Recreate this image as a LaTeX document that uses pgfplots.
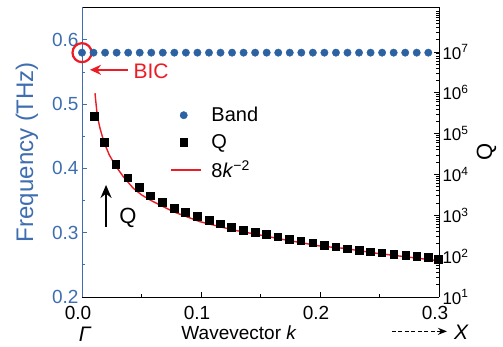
\documentclass[border=0pt]{standalone}
\usepackage{pgfplots}
\pgfplotsset{compat=1.18}
\usetikzlibrary{arrows.meta}
\usepackage{fontspec}
\setmainfont{Liberation Sans}
\definecolor{bandC}{RGB}{44,98,162}
\definecolor{blueL}{RGB}{62,110,176}
\definecolor{redC}{RGB}{236,28,36}
\pgfplotsset{
  markleg/.style={legend image code/.code={\draw[##1] plot coordinates {(13pt,0pt)};}},
  lineleg/.style={legend image code/.code={\draw[##1] (0pt,0pt) -- (30pt,0pt);}},
}
\begin{document}
\begin{tikzpicture}
\begin{axis}[
  name=ax1, at={(0pt,0pt)}, anchor=south west,
  scale only axis, width=357pt, height=290pt,
  xmin=0, xmax=0.3, ymin=0.2, ymax=0.651,
  axis x line*=box, axis y line*=left,
  xtick pos=left,
  x axis line style={black, line width=0.9pt},
  y axis line style={blueL, line width=0.9pt},
  xtick={0,0.1,0.2,0.3}, xticklabels={0.0,0.1,0.2,0.3},
  minor x tick num=1,
  ytick={0.2,0.3,0.4,0.5,0.6}, yticklabels={0.2,0.3,0.4,0.5,0.6},
  minor y tick num=1,
  tick align=inside,
  major tick length=5pt, minor tick length=3pt,
  xtick style={black, line width=0.8pt},
  ytick style={blueL, line width=0.8pt},
  xticklabel style={font=\fontsize{19}{19}\selectfont, xshift=-4pt, yshift=-6pt},
  yticklabel style={font=\fontsize{19}{19}\selectfont, text=blueL},
  ylabel={Frequency (THz)},
  ylabel style={at={(axis description cs:-0.154,0.5)}, anchor=center, font=\fontsize{24}{24}\selectfont, text=blueL},
  clip=false,
]
\addplot[only marks, mark=*, mark size=3.7pt, color=bandC] coordinates {
(0,0.58) (0.0097,0.58) (0.0194,0.58) (0.0291,0.58) (0.0388,0.58) (0.0485,0.58)
(0.0582,0.58) (0.0679,0.58) (0.0776,0.58) (0.0873,0.58) (0.097,0.58) (0.1067,0.58)
(0.1164,0.58) (0.1261,0.58) (0.1358,0.58) (0.1455,0.58) (0.1552,0.58) (0.1649,0.58)
(0.1746,0.58) (0.1843,0.58) (0.194,0.58) (0.2037,0.58) (0.2134,0.58) (0.2231,0.58)
(0.2328,0.58) (0.2425,0.58) (0.2522,0.58) (0.2619,0.58) (0.2716,0.58) (0.2813,0.58)
(0.291,0.58)};
% annotations
\draw[redC, line width=2.2pt] (axis cs:0,0.58) circle[radius=9.5pt];
\draw[redC, line width=2.2pt, -{Stealth[length=11pt,width=10pt]}] (axis cs:0.0387,0.5533) -- (axis cs:0.0067,0.5533);
\node[text=redC, font=\fontsize{21}{21}\selectfont] at (axis cs:0.058,0.551) {BIC};
\draw[black, line width=2.2pt, -{Stealth[length=13pt,width=11pt]}] (axis cs:0.0202,0.309) -- (axis cs:0.0202,0.3743);
\node[font=\fontsize{22}{22}\selectfont] at (axis cs:0.0387,0.323) {Q};
\node[font=\fontsize{21}{21}\selectfont\itshape] at (axis cs:0.0025,0.142) {Γ};
\node[font=\fontsize{19}{19}\selectfont] at (axis cs:0.132,0.145) {Wavevector \textit{k}};
\node[font=\fontsize{21}{21}\selectfont\itshape] at (axis cs:0.3185,0.145) {X};
\draw[black, line width=1.5pt, dash pattern=on 4pt off 2.5pt, -{Stealth[length=9pt,width=7pt]}] (axis cs:0.2605,0.1466) -- (axis cs:0.3067,0.1466);
\end{axis}
\begin{axis}[
  at={(0pt,0pt)}, anchor=south west,
  scale only axis, width=357pt, height=290pt,
  xmin=0, xmax=0.3, ymode=log, ymin=10, ymax=1.26e8,
  axis x line=none, axis y line*=right,
  y axis line style={black, line width=0.9pt},
  ytick={1e1,1e2,1e3,1e4,1e5,1e6,1e7},
  yticklabels={10\textsuperscript{1},10\textsuperscript{2},10\textsuperscript{3},10\textsuperscript{4},10\textsuperscript{5},10\textsuperscript{6},10\textsuperscript{7}},
  minor ytick={2e1,3e1,4e1,5e1,6e1,7e1,8e1,9e1,2e2,3e2,4e2,5e2,6e2,7e2,8e2,9e2,2e3,3e3,4e3,5e3,6e3,7e3,8e3,9e3,2e4,3e4,4e4,5e4,6e4,7e4,8e4,9e4,2e5,3e5,4e5,5e5,6e5,7e5,8e5,9e5,2e6,3e6,4e6,5e6,6e6,7e6,8e6,9e6,2e7,3e7,4e7,5e7,6e7,7e7,8e7,9e7,1e8},
  tick align=inside,
  major tick length=5pt, minor tick length=3pt,
  ytick style={black, line width=0.8pt},
  yticklabel style={font=\fontsize{17}{17}\selectfont},
  ylabel={Q},
  ylabel style={at={(axis description cs:1.133,0.5)}, anchor=center, font=\fontsize{22}{22}\selectfont},
  clip=false,
  legend style={draw=none, fill=none, at={(axis description cs:0.246,0.662)}, anchor=north west,
    font=\fontsize{20}{20}\selectfont, row sep=7pt, column sep=8pt, inner sep=0pt},
  legend cell align=left,
]
\addlegendimage{only marks, mark=*, mark size=3.7pt, color=bandC, markleg}
\addplot[redC, line width=1.4pt, forget plot] coordinates {
(0.01092,975000) (0.01176,554600) (0.01286,271000) (0.01513,135500) (0.01849,61500)
(0.02294,30060) (0.02832,16140) (0.03471,8830) (0.04311,4590) (0.05017,3150)
(0.05714,2377) (0.07672,1227) (0.09916,698) (0.1271,437) (0.1496,330) (0.1664,264)
(0.2,177) (0.2196,156) (0.2476,117.5) (0.2756,93.8) (0.2994,77.4)};
\addplot[only marks, mark=square*, mark size=3.9pt, color=black, markleg] coordinates {
(0.0103,271000) (0.0185,61500) (0.0283,17780) (0.0384,8360) (0.0481,4810)
(0.0576,3030) (0.0675,2085) (0.0773,1486) (0.0870,1186) (0.0969,953)
(0.1067,769) (0.1160,624) (0.1256,518) (0.1355,437) (0.1454,384)
(0.1549,343) (0.1645,300) (0.1739,264) (0.1838,239) (0.1939,214)
(0.2034,188) (0.2132,171) (0.2229,152) (0.2328,142) (0.2423,129)
(0.2518,122) (0.2619,113) (0.2720,107) (0.2813,101) (0.2910,93.8)
(0.2994,83.8)};
\addlegendimage{redC, line width=1.4pt, lineleg}
\legend{Band, Q, 8\textit{k}\textsuperscript{\symbol{"2212}2}}
\end{axis}
\path (-82pt,-49pt) rectangle (421pt,297pt);
\end{tikzpicture}
\end{document}
